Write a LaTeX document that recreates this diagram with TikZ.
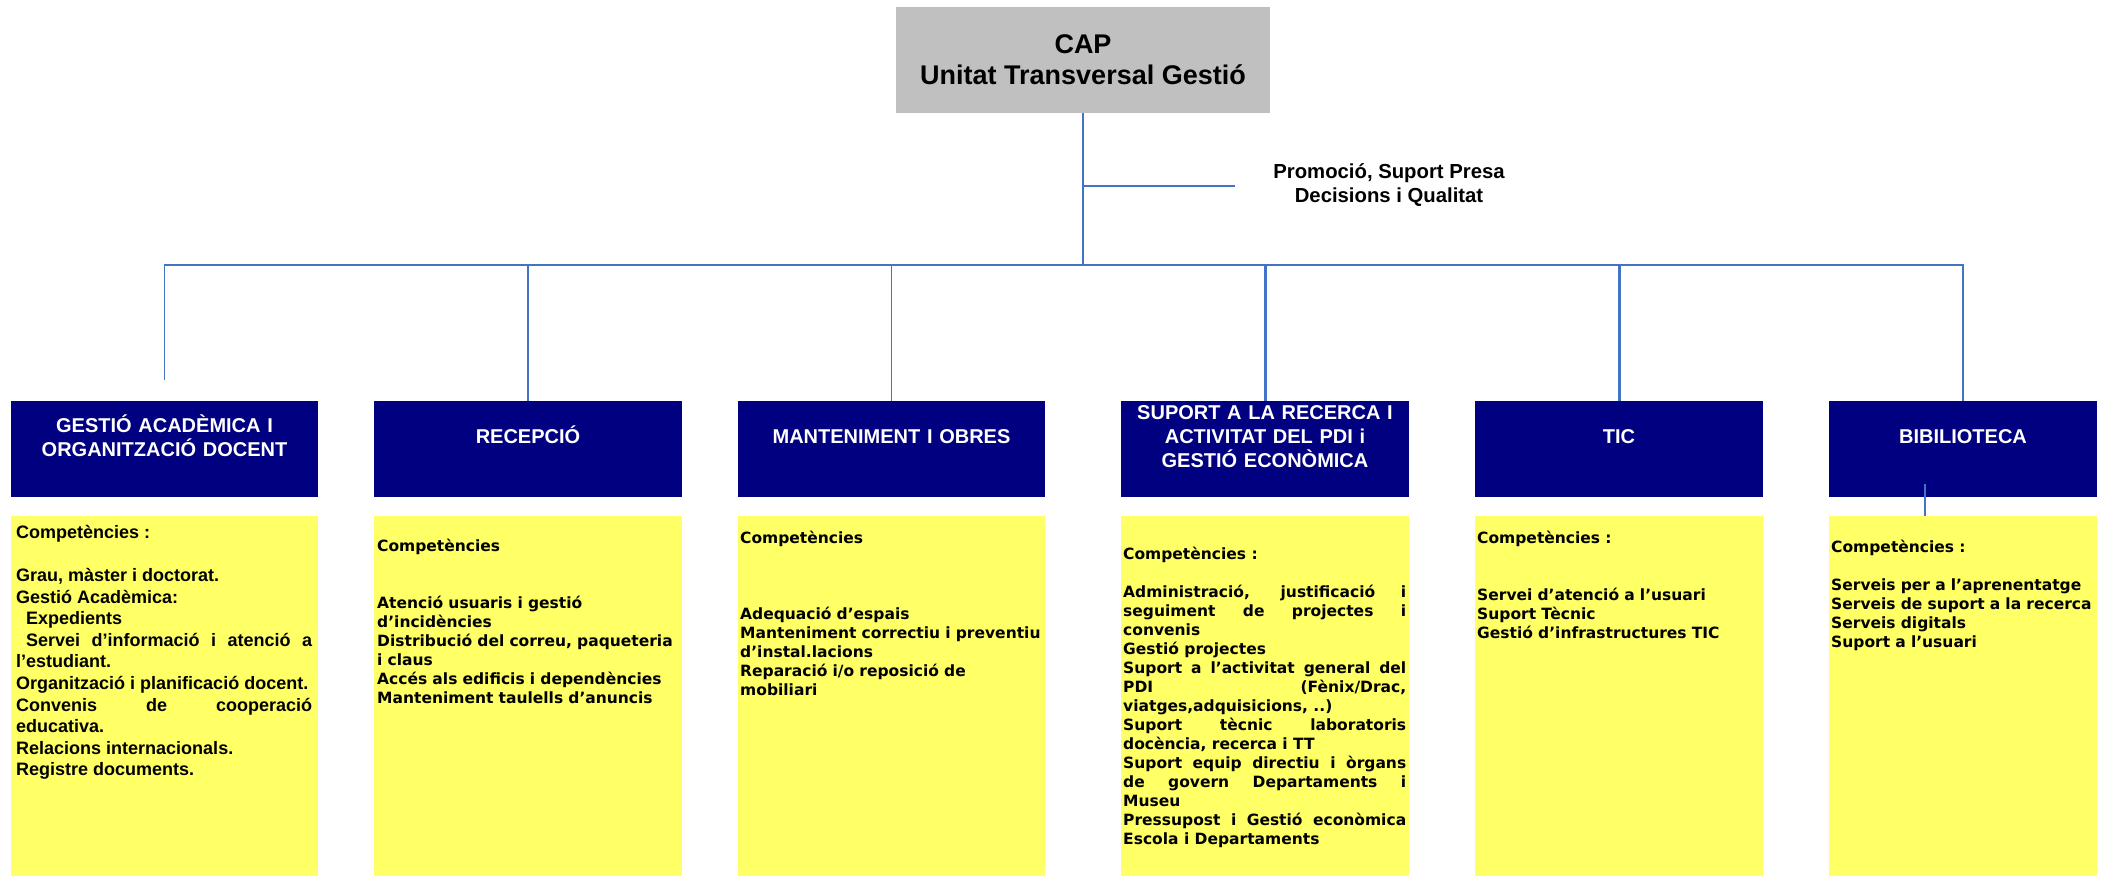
\documentclass[tikz,border=0pt]{standalone}
\usepackage{fontspec}
\setmainfont{Liberation Sans}
\newfontfamily\verd{DejaVu Sans}
\hyphenpenalty=10000
\exhyphenpenalty=10000
\definecolor{navy}{RGB}{0,0,128}
\definecolor{pale}{RGB}{255,255,102}
\definecolor{capgray}{RGB}{192,192,192}
\definecolor{linkblue}{RGB}{68,114,196}
\begin{document}
\begin{tikzpicture}[x=1pt,y=-1pt,
  capbox/.style={fill=capgray, minimum width=374pt, minimum height=106pt, inner sep=0pt, align=center, font=\bfseries\fontsize{27}{31}\selectfont},
  promo/.style={anchor=north, inner sep=0pt, align=center, font=\bfseries\fontsize{20.3}{24}\selectfont},
  unit/.style={fill=navy, minimum height=96pt, inner sep=0pt, anchor=north west},
  ttl/.style={anchor=north, inner sep=0pt, text=white, align=center, text width=300pt, font=\bfseries\fontsize{20}{24.3}\selectfont},
  pane/.style={fill=pale, minimum height=360pt, inner sep=0pt, anchor=north west},
  bodyA/.style={anchor=north west, inner sep=0pt, align=justify, font=\bfseries\fontsize{18}{21.6}\selectfont},
  bodyV/.style={anchor=north west, inner sep=0pt, align=left, text width=330pt, font=\verd\bfseries\fontsize{15.5}{19}\selectfont},
  bodyJ/.style={anchor=north west, inner sep=0pt, align=justify, font=\verd\bfseries\fontsize{15.5}{19}\selectfont},
  conn/.style={draw=linkblue, line width=1.5pt},
  trunk/.style={draw=linkblue, line width=2.8pt}
]
\useasboundingbox (0,0) rectangle (2112,876);

% head
\node[capbox] (cap) at (1083,60) {CAP\\Unitat Transversal Gestió};
\node[promo] (promo) at (1389,161) {\rule{0pt}{17pt}Promoció, Suport Presa\\Decisions i Qualitat};

% unit boxes
\node[unit, minimum width=307pt] (g1) at (11,401) {};
\node[unit, minimum width=308pt] (g2) at (374,401) {};
\node[unit, minimum width=307pt] (g3) at (738,401) {};
\node[unit, minimum width=288pt] (g4) at (1121,401) {};
\node[unit, minimum width=288pt] (g5) at (1475,401) {};
\node[unit, minimum width=268pt] (g6) at (1829,401) {};

\node[ttl] (t1) at (164.5,412) {\rule{0pt}{20pt}GESTIÓ ACADÈMICA I\\ORGANITZACIÓ DOCENT};
\node[ttl] (t2) at (528,423) {\rule{0pt}{20pt}RECEPCIÓ};
\node[ttl] (t3) at (891.5,423) {\rule{0pt}{20pt}MANTENIMENT I OBRES};
\node[ttl] (t4) at (1265,399) {\rule{0pt}{20pt}SUPORT A LA RECERCA I\\ACTIVITAT DEL PDI i\\GESTIÓ ECONÒMICA};
\node[ttl] (t5) at (1619,423) {\rule{0pt}{20pt}TIC};
\node[ttl] (t6) at (1963,423) {\rule{0pt}{20pt}BIBILIOTECA};

% competence panes
\node[pane, minimum width=307pt] (y1) at (11,516) {};
\node[pane, minimum width=308pt] (y2) at (374,516) {};
\node[pane, minimum width=307pt] (y3) at (738,516) {};
\node[pane, minimum width=288pt] (y4) at (1121,516) {};
\node[pane, minimum width=288pt] (y5) at (1475,516) {};
\node[pane, minimum width=268pt] (y6) at (1829,516) {};

\node[bodyA, text width=296pt] (c1) at (16,520) {\rule{0pt}{18pt}Competències :\par
\mbox{}\par
Grau, màster i doctorat.\par
Gestió Acadèmica:\par
\hspace*{10pt}Expedients\par
\hspace*{10pt}Servei d’informació i atenció a\linebreak l’estudiant.\par
Organització i planificació docent.\par
Convenis de cooperació\linebreak educativa.\par
Relacions internacionals.\par
Registre documents.};

\node[bodyV] (c2) at (377,535) {\rule{0pt}{16pt}Competències\\
\mbox{}\\
\mbox{}\\
Atenció usuaris i gestió\\
d’incidències\\
Distribució del correu, paqueteria\\
i claus\\
Accés als edificis i dependències\\
Manteniment taulells d’anuncis};

\node[bodyV] (c3) at (740,527) {\rule{0pt}{16pt}Competències\\
\mbox{}\\
\mbox{}\\
\mbox{}\\
Adequació d’espais\\
Manteniment correctiu i preventiu\\
d’instal.lacions\\
Reparació i/o reposició de\\
mobiliari};

\node[bodyJ, text width=283pt] (c4) at (1123,543) {\rule{0pt}{16pt}Competències :\par
\mbox{}\par
Administració, justificació i\linebreak seguiment de projectes i\linebreak convenis\par
Gestió projectes\par
Suport a l’activitat general del\linebreak PDI (Fènix/Drac,\linebreak viatges,adquisicions, ..)\par
Suport tècnic laboratoris\linebreak docència, recerca i TT\par
Suport equip directiu i òrgans\linebreak de govern Departaments i\linebreak Museu\par
Pressupost i Gestió econòmica\linebreak Escola i Departaments};

\node[bodyV] (c5) at (1477,527) {\rule{0pt}{16pt}Competències :\\
\mbox{}\\
\mbox{}\\
Servei d’atenció a l’usuari\\
Suport Tècnic\\
Gestió d’infrastructures TIC};

\node[bodyV] (c6) at (1831,536) {\rule{0pt}{16pt}Competències :\\
\mbox{}\\
Serveis per a l’aprenentatge\\
Serveis de suport a la recerca\\
Serveis digitals\\
Suport a l’usuari};

% connectors
\coordinate (bus) at (1083,265);
\coordinate (branch) at (1083,186);
\coordinate (promoEnd) at (1235,186);
\coordinate (g1end) at ([yshift=21pt]g1.north);
\coordinate (blink) at (1925,484);

\draw[trunk] (cap.south) -- (bus);
\draw[conn] (branch) -- (promoEnd);
\draw[conn] (bus) -| (g1end);
\draw[conn] (bus) -| (g2.north);
\draw[conn] (bus) -| (g3.north);
\draw[conn] (bus) -| (g6.north);
\draw[trunk] (bus) -| (g4.north);
\draw[trunk] (bus) -| (g5.north);
\draw[draw=linkblue, line width=1.2pt] (blink) -- (blink |- y6.north);
\end{tikzpicture}
\end{document}
